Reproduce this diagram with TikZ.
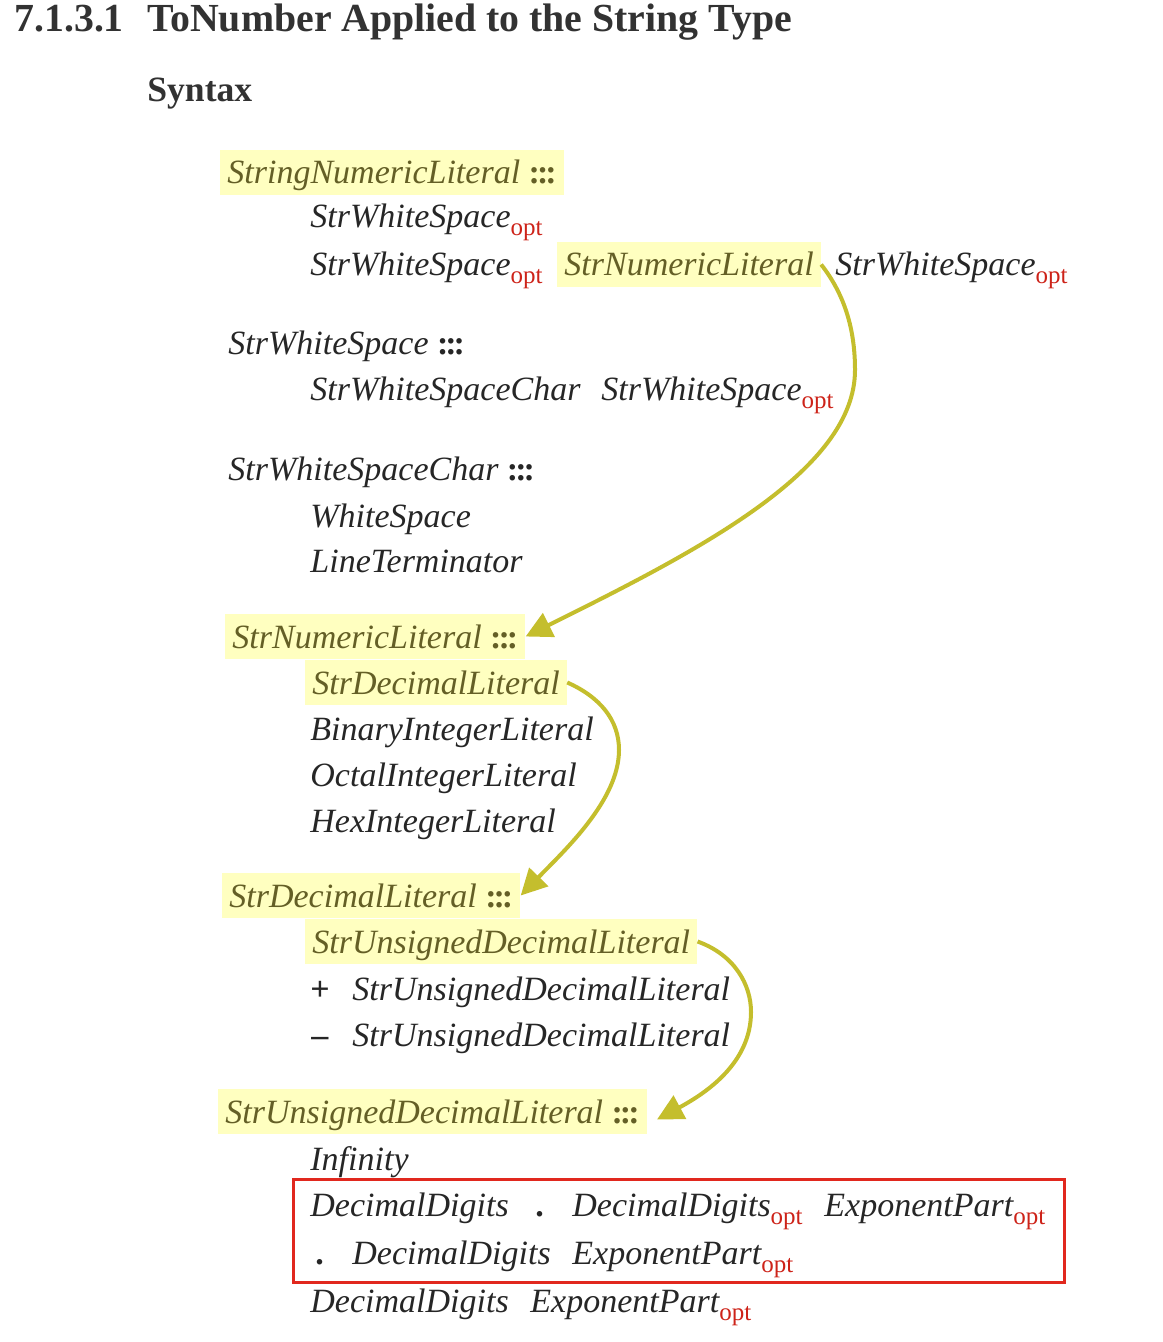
\documentclass[tikz,border=0pt]{standalone}
\usepackage{fontspec}
\setmainfont{Liberation Serif}
\usetikzlibrary{calc,arrows.meta,positioning}
\definecolor{inkGray}{RGB}{38,38,38}
\definecolor{headGray}{RGB}{50,50,50}
\definecolor{oliveInk}{RGB}{100,95,38}
\definecolor{hlYellow}{RGB}{255,255,192}
\definecolor{arrowOlive}{RGB}{196,190,45}
\definecolor{optRed}{RGB}{205,35,25}
\definecolor{frameRed}{RGB}{225,40,30}
\newcommand{\optmark}{\raisebox{-4pt}{\upshape\fontsize{12.5}{13}\selectfont\color{optRed}opt}}
\newcommand{\defsep}{\ {\upshape\bfseries :\kern-1.5pt:\kern-1.5pt:}}

\begin{document}
\begin{tikzpicture}[x=0.5pt,y=-0.5pt,
  prod/.style={anchor=base west,inner sep=0pt,text=inkGray,font=\itshape\fontsize{17}{20}\selectfont},
  hilite/.style={prod,fill=hlYellow,text=oliveInk,inner xsep=3.5pt,text height=17pt,text depth=5.5pt},
  signmark/.style={prod,font=\bfseries\fontsize{17}{20}\selectfont},
  heading/.style={anchor=base west,inner sep=0pt,text=headGray,font=\bfseries\fontsize{19.9}{22}\selectfont},
  jump/.style={draw=arrowOlive,line width=2pt,-{Triangle[length=13pt,width=13pt]}},
  redframe/.style={draw=frameRed,line width=1.5pt}]
  \useasboundingbox (0,0) rectangle (1162,1342);
  % heading
  \node[heading] (secNum) at (14,32) {7.1.3.1};
  \node[heading] (secTitle) at (147,32) {ToNumber Applied to the String Type};
  \node[heading,font=\bfseries\fontsize{17.8}{20}\selectfont] (syntaxHead) at (147,102) {Syntax};
  % StringNumericLiteral
  \node[hilite] (stringHead) at (220,184) {StringNumericLiteral\defsep};
  \node[prod] (wsOptA) at (310,228) {StrWhiteSpace\optmark};
  \node[prod] (wsOptB) at (310,276) {StrWhiteSpace\optmark};
  \node[hilite] (numRef) at (557,276) {StrNumericLiteral};
  \node[prod] (wsOptC) at (835,276) {StrWhiteSpace\optmark};
  % StrWhiteSpace
  \node[prod] (wsHead) at (228,355) {StrWhiteSpace\defsep};
  \node[prod] (wsCharRef) at (310,400) {StrWhiteSpaceChar};
  \node[prod] (wsOptD) at (601,400) {StrWhiteSpace\optmark};
  \node[prod] (wsCharHead) at (228,480) {StrWhiteSpaceChar\defsep};
  \node[prod] (whiteSpace) at (310,527) {WhiteSpace};
  \node[prod] (lineTerm) at (310,572) {LineTerminator};
  % StrNumericLiteral
  \node[hilite] (numHead) at (225,648) {StrNumericLiteral\defsep};
  \node[hilite] (decRef) at (305,694) {StrDecimalLiteral};
  \node[prod] (binLit) at (310,740) {BinaryIntegerLiteral};
  \node[prod] (octLit) at (310,786) {OctalIntegerLiteral};
  \node[prod] (hexLit) at (310,832) {HexIntegerLiteral};
  % StrDecimalLiteral
  \node[hilite] (decHead) at (222,907) {StrDecimalLiteral\defsep};
  \node[hilite] (udecRef) at (305,953) {StrUnsignedDecimalLiteral};
  \node[signmark] (plusSign) at (310,1000) {+};
  \node[prod] (plusUdec) at (352,1000) {StrUnsignedDecimalLiteral};
  \node[signmark] (minusSign) at (311,1046) {--};
  \node[prod] (minusUdec) at (352,1046) {StrUnsignedDecimalLiteral};
  % StrUnsignedDecimalLiteral
  \node[hilite] (udecHead) at (218,1123) {StrUnsignedDecimalLiteral\defsep};
  \node[prod] (infinity) at (310,1170) {Infinity};
  \node[prod] (ddA) at (310,1216) {DecimalDigits};
  \node[signmark] (dotA) at (535,1216) {.};
  \node[prod] (ddOptA) at (572,1216) {DecimalDigits\optmark};
  \node[prod] (expOptA) at (824,1216) {ExponentPart\optmark};
  \node[signmark] (dotB) at (315,1264) {.};
  \node[prod] (ddB) at (352,1264) {DecimalDigits};
  \node[prod] (expOptB) at (572,1264) {ExponentPart\optmark};
  \node[prod] (ddC) at (310,1312) {DecimalDigits};
  \node[prod] (expOptC) at (530,1312) {ExponentPart\optmark};
  % red frame
  \coordinate (frameNW) at (293,1179);
  \coordinate (frameSE) at (1064,1282);
  \draw[redframe] (frameNW) rectangle (frameSE);
  % jumps
  \coordinate (bendA) at (855,370);
  \coordinate (bendB) at (619,750);
  \coordinate (bendC) at (751,1012);
  \coordinate (udecTip) at ($(udecHead.east)+(10,8)$);
  \draw[jump] (numRef.east) .. controls (845,295) and (855,330) .. (bendA)
    .. controls (855,470) and (700,550) .. (numHead.east);
  \draw[jump] (decRef.east) .. controls (600,697) and (619,720) .. (bendB)
    .. controls (619,800) and (565,850) .. (decHead.east);
  \draw[jump] (udecRef.east) .. controls (735,955) and (751,985) .. (bendC)
    .. controls (751,1062) and (708,1092) .. (udecTip);
\end{tikzpicture}
\end{document}
